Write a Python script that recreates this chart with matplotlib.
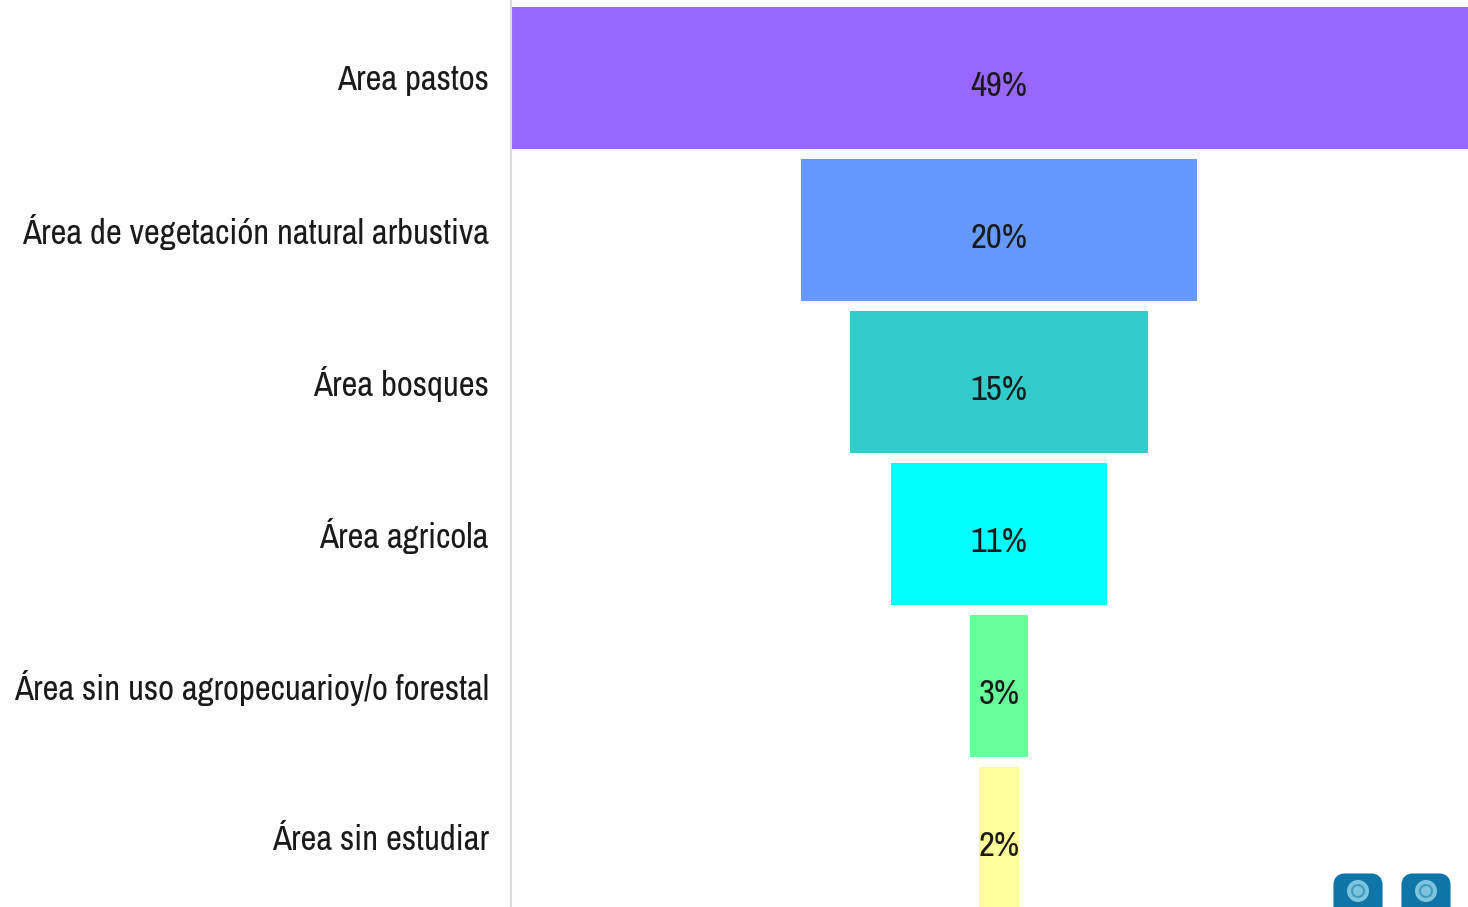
import matplotlib
matplotlib.use("Agg")
import matplotlib.pyplot as plt
from matplotlib.patches import FancyBboxPatch, Circle
from matplotlib.transforms import ScaledTranslation

categories = ["Area pastos", "Área de vegetación natural arbustiva", "Área bosques",
              "Área agricola", "Área sin uso agropecuarioy/o forestal", "Área sin estudiar"]
values = [49.2, 20.0, 15.05, 10.9, 2.93, 2.0]
labels = ["49%", "20%", "15%", "11%", "3%", "2%"]
colors = ["#9966ff", "#6699ff", "#33cccc", "#00ffff", "#66ff99", "#ffff99"]

W, H = 1468, 907
plt.rcParams["font.family"] = ["Archivo Narrow", "Roboto Condensed", "Liberation Sans", "DejaVu Sans"]

fig = plt.figure(figsize=(W / 100, H / 100), dpi=100)
ax = fig.add_axes([511 / W, 0, (W - 511) / W, 1])

# 19.8 px per percent, funnel centred on x=999 px
scale = 19.8
ax.set_xlim((511 - 999) / scale, (W - 999) / scale)
ax.set_ylim((H - 78) / 152, -78 / 152)

lefts = [-v / 2 for v in values]
ax.barh(range(len(values)), values, left=lefts, height=142 / 152, color=colors, linewidth=0)

for i, lab in enumerate(labels):
    ax.text(0, i + 8 / 152, lab, ha="center", va="center", fontsize=25, color="#1a1a1a")

ax.set_yticks(range(len(categories)))
ax.set_yticklabels(categories, fontsize=25, color="#1a1a1a")
ax.tick_params(axis="y", length=0, pad=16)
# nudge the category labels up a little
up = ScaledTranslation(0, 1 / 72, fig.dpi_scale_trans)
for t in ax.get_yticklabels():
    t.set_transform(t.get_transform() + up)
ax.set_xticks([])
for s in ["top", "right", "bottom"]:
    ax.spines[s].set_visible(False)
ax.spines["left"].set_color("#dddddd")
ax.spines["left"].set_linewidth(1.5)

# the two small buttons in the lower right corner
bg = fig.add_axes([0, 0, 1, 1], facecolor="none")
bg.set_xlim(0, W)
bg.set_ylim(H, 0)
bg.axis("off")
for x0 in [1333, 1401]:
    bg.add_patch(FancyBboxPatch((x0 + 6, 879), 38, 40, boxstyle="round,pad=0,rounding_size=6",
                                facecolor="#0f75a8", edgecolor="#0f75a8", linewidth=8))
    bg.add_patch(Circle((x0 + 25, 891), 11, facecolor="#7fc4dc", edgecolor="none"))
    bg.add_patch(Circle((x0 + 25, 891), 6, facecolor="none", edgecolor="#3d9cc4", linewidth=1.5))

fig.savefig("out.png", dpi=100)
